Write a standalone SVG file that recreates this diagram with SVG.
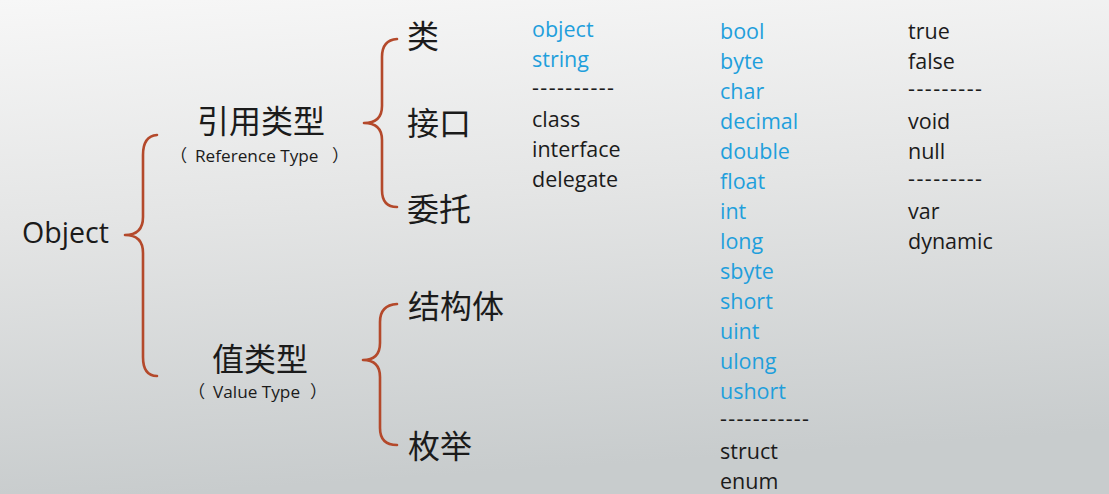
<svg xmlns="http://www.w3.org/2000/svg" width="1109" height="494" viewBox="0 0 1109 494">
  <defs>
    <linearGradient id="bg" x1="0" y1="0" x2="0.15" y2="1">
      <stop offset="0" stop-color="#f7f7f7"/>
      <stop offset="0.45" stop-color="#e4e5e5"/>
      <stop offset="1" stop-color="#c8cccd"/>
    </linearGradient>
    <style>
      .brace { fill: none; stroke: #b4492b; stroke-width: 2.6; stroke-linecap: round; stroke-linejoin: round; }
      .cjk { font-family: "Noto Sans CJK SC", "Noto Sans", sans-serif; font-size: 32px; fill: #1b1b1b; }
      .lat { font-family: "Open Sans", "Noto Sans", sans-serif; fill: #1b1b1b; }
      .sub { font-family: "Open Sans", "Noto Sans CJK SC", sans-serif; font-size: 17.2px; fill: #1b1b1b; }
      .kw { font-family: "Open Sans", "Noto Sans", sans-serif; font-size: 21.5px; fill: #1b1b1b; }
      .blue { fill: #1f9fdc; }
    </style>
  </defs>
  <rect x="0" y="0" width="1109" height="494" fill="url(#bg)"/>

  <g id="connectors">
    <path class="brace" d="M157,135 Q143,136 143,155 L143,217 Q143,235 125,235 Q143,235 143,253 L143,357 Q143,376 157,376"/>
    <path class="brace" d="M397,39 Q382,40 382,57 L382,106 Q382,123 364,123 Q382,123 382,140 L382,190 Q382,207 397,207"/>
    <path class="brace" d="M397,304 Q380,305 380,322 L380,343 Q380,360 363,360 Q380,360 380,377 L380,428 Q380,445 397,445"/>
  </g>

  <g id="node-object">
    <text class="lat" x="22" y="243" font-size="28.6">Object</text>
  </g>

  <g id="node-reference-type">
    <text class="cjk" x="261" y="133" text-anchor="middle">引用类型</text>
    <text class="sub" x="170" y="162">（<tspan x="195">Reference Type</tspan><tspan x="332">）</tspan></text>
  </g>

  <g id="node-value-type">
    <text class="cjk" x="260" y="371" text-anchor="middle">值类型</text>
    <text class="sub" x="188" y="398">（<tspan x="213">Value Type</tspan><tspan x="310">）</tspan></text>
  </g>

  <g id="node-class">
    <text class="cjk" x="407" y="48">类</text>
  </g>
  <g id="node-interface">
    <text class="cjk" x="407" y="135">接口</text>
  </g>
  <g id="node-delegate">
    <text class="cjk" x="407" y="221">委托</text>
  </g>
  <g id="node-struct">
    <text class="cjk" x="408" y="318">结构体</text>
  </g>
  <g id="node-enum">
    <text class="cjk" x="408" y="458">枚举</text>
  </g>

  <g id="list-reference-keywords">
    <text class="kw blue" x="532" y="37">object</text>
    <text class="kw blue" x="532" y="67">string</text>
    <text class="kw" x="532" y="95" textLength="82" lengthAdjust="spacing">----------</text>
    <text class="kw" x="532" y="127">class</text>
    <text class="kw" x="532" y="157">interface</text>
    <text class="kw" x="532" y="187">delegate</text>
  </g>

  <g id="list-value-keywords">
    <text class="kw blue" x="720" y="39">bool</text>
    <text class="kw blue" x="720" y="69">byte</text>
    <text class="kw blue" x="720" y="99">char</text>
    <text class="kw blue" x="720" y="129">decimal</text>
    <text class="kw blue" x="720" y="159">double</text>
    <text class="kw blue" x="720" y="189">float</text>
    <text class="kw blue" x="720" y="219">int</text>
    <text class="kw blue" x="720" y="249">long</text>
    <text class="kw blue" x="720" y="279">sbyte</text>
    <text class="kw blue" x="720" y="309">short</text>
    <text class="kw blue" x="720" y="339">uint</text>
    <text class="kw blue" x="720" y="369">ulong</text>
    <text class="kw blue" x="720" y="399">ushort</text>
    <text class="kw" x="720" y="426" textLength="89" lengthAdjust="spacing">-----------</text>
    <text class="kw" x="720" y="459">struct</text>
    <text class="kw" x="720" y="489">enum</text>
  </g>

  <g id="list-other-keywords">
    <text class="kw" x="908" y="39">true</text>
    <text class="kw" x="908" y="69">false</text>
    <text class="kw" x="908" y="96" textLength="74" lengthAdjust="spacing">---------</text>
    <text class="kw" x="908" y="129">void</text>
    <text class="kw" x="908" y="159">null</text>
    <text class="kw" x="908" y="186" textLength="74" lengthAdjust="spacing">---------</text>
    <text class="kw" x="908" y="219">var</text>
    <text class="kw" x="908" y="249">dynamic</text>
  </g>
</svg>
